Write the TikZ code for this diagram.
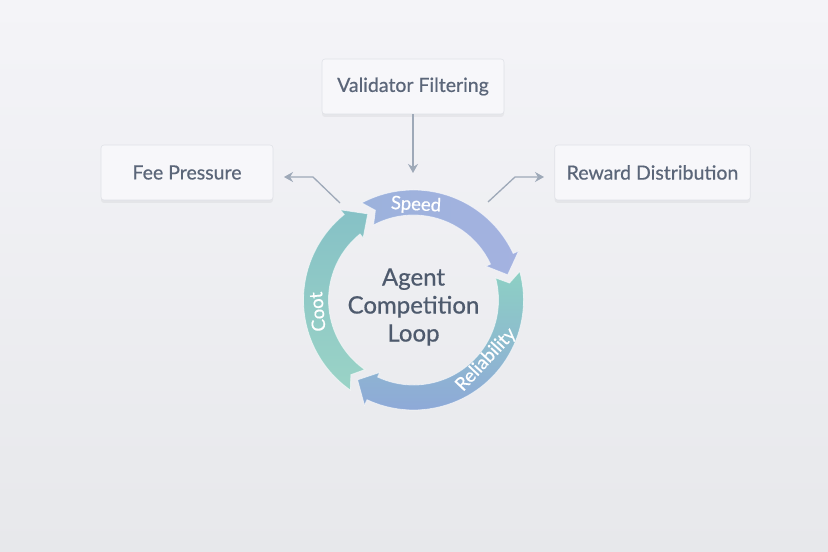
\documentclass[tikz,border=0pt]{standalone}
\usepackage{fontspec}
\setmainfont{Lato}
\newfontfamily\medfont{Lato}[FakeBold=0.6]
\usetikzlibrary{arrows.meta,shadows}
\definecolor{bgtop}{HTML}{F4F4F8}
\definecolor{bgbot}{HTML}{E7E8EB}
\definecolor{boxfill}{HTML}{F7F7FA}
\definecolor{boxline}{HTML}{E0E2E8}
\definecolor{boxtext}{HTML}{5B6679}
\definecolor{titletext}{HTML}{4E5A6D}
\definecolor{conncol}{HTML}{9EA9B8}
\definecolor{spdA}{HTML}{9CB2DC}
\definecolor{spdB}{HTML}{A4B2E0}
\definecolor{relA}{HTML}{8DD0C4}
\definecolor{relB}{HTML}{8EA8D8}
\definecolor{costA}{HTML}{86C1C6}
\definecolor{costB}{HTML}{9AD3C6}
\tikzset{
  infobox/.style={draw=boxline, line width=0.6pt, fill=boxfill, rounded corners=3pt,
    minimum height=55pt, inner xsep=12pt, text=boxtext,
    font=\medfont\fontsize{19.5}{22}\selectfont,
    drop shadow={opacity=0.09, shadow xshift=0pt, shadow yshift=-3pt}},
  conn/.style={draw=conncol, line width=1.3pt, -{Stealth[length=9pt,width=10pt]}},
  arclabel/.style={text=white, font=\medfont\fontsize{18.5}{20}\selectfont},
  ringarrow/.style={draw=white, draw opacity=0.6, line width=0.8pt},
}
\begin{document}
\begin{tikzpicture}[x=1pt,y=1pt]
\shade[top color=bgtop, bottom color=bgbot] (0,0) rectangle (828,552);
\useasboundingbox (0,0) rectangle (828,552);

% boxes
\node[infobox, minimum width=182pt] (val) at (413,465.5) {Validator Filtering};
\node[infobox, minimum width=172pt] (fee) at (187,379.5) {Fee Pressure};
\node[infobox, minimum width=195pt] (rew) at (652.5,379.5) {Reward Distribution};

% ring
\begin{scope}[shift={(413.5,252)}]
  \coordinate (c) at (0,0);
  % Cost
  \path[ringarrow, top color=costA, bottom color=costB]
    (235:110) arc[start angle=235, end angle=129, radius=110]
    -- (129:116) -- (118:97.5) -- (129:80) -- (129:85)
    arc[start angle=129, end angle=235, radius=85] -- (230:97.5) -- cycle;
  % Speed
  \path[ringarrow, left color=spdA, right color=spdB]
    (118:110) arc[start angle=118, end angle=25, radius=110]
    -- (25:116) -- (15:97.5) -- (25:80) -- (25:85)
    arc[start angle=25, end angle=118, radius=85] -- (113:97.5) -- cycle;
  % Reliability
  \path[ringarrow, top color=relA, bottom color=relB]
    (15:110) arc[start angle=15, end angle=-115, radius=110]
    -- (-115:116) -- (-125:97.5) -- (-115:80) -- (-115:85)
    arc[start angle=-115, end angle=15, radius=85] -- (10:97.5) -- cycle;
  \node[arclabel, rotate=-3] (lspeed) at (88.5:95) {Speed};
  \node[arclabel, rotate=47] (lrel) at (-39.5:94) {Reliability};
  \node[arclabel, rotate=95] (lcost) at (187:97) {Coot};
\end{scope}

\node[align=center, text=titletext, font=\medfont\fontsize{24}{28}\selectfont] (title) at (413.5,245)
  {Agent\\Competition\\Loop};

% connectors
\coordinate (valend) at (413,379);
\draw[conn] (val.south) -- (valend);
\coordinate (feestart) at (340,349);
\coordinate (feebend) at (313,375);
\coordinate (feeend) at (284,375);
\draw[conn] (feestart) -- (feebend) -- (feeend);
\coordinate (rewstart) at (488,350);
\coordinate (rewbend) at (515,375);
\coordinate (rewend) at (544,375);
\draw[conn] (rewstart) -- (rewbend) -- (rewend);
\end{tikzpicture}
\end{document}
